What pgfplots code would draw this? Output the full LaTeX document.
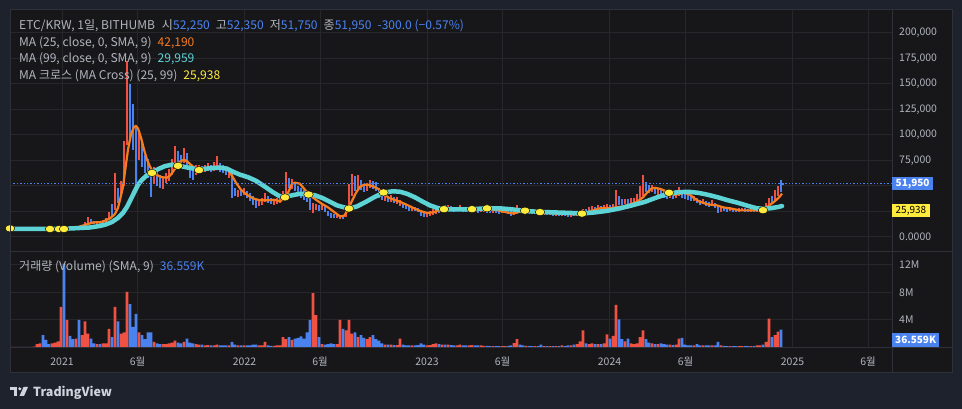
\documentclass[border=0pt]{standalone}
\usepackage{fontspec}
\setmainfont{Noto Sans CJK KR}
\usepackage{pgfplots}
\pgfplotsset{compat=1.18}
\usepackage{pgfplotstable}
\definecolor{outerbg}{HTML}{1E222D}
\definecolor{chartbg}{HTML}{17171A}
\definecolor{gridc}{HTML}{26262B}
\definecolor{framec}{HTML}{303138}
\definecolor{txt}{HTML}{B2B5BE}
\definecolor{cblue}{HTML}{4A82F0}
\definecolor{cred}{HTML}{EF5143}
\definecolor{corange}{HTML}{F57C1F}
\definecolor{ccyan}{HTML}{5DD3D6}
\definecolor{cyellow}{HTML}{FFEB3B}
\definecolor{tvtext}{HTML}{D1D4DC}
\newcommand{\lf}{\fontsize{12.1}{14}\selectfont}
\newcommand{\tf}{\fontsize{10.5}{12}\selectfont}

% candles (up = red), columns: day since 2021-01-01, low, high (thousand KRW), volume (M)
\pgfplotstableread{
d l h v
-98 6.8 7.8 0.1
-86 7.1 8.3 0.1
-68 6.7 7.8 0.1
-56 6.7 8.0 0.12
-50 7.0 8.5 0.5
-44 7.2 8.8 0.6
-20 6.4 7.5 0.6
-14 6.6 7.8 0.7
-8 6.8 8.0 0.9
-2 7.0 8.8 5.9
10 7.8 9.5 4.0
28 7.5 9.2 1.3
40 8.5 11.0 1.8
46 10.5 14.5 3.8
52 13.0 19.5 2.0
70 12.5 15.5 0.5
82 13.0 15.8 0.6
88 14.5 18.5 0.6
94 16.5 24.0 2.7
106 26.0 62.0 5.9
118 40.0 55.0 2.0
124 50.0 94.0 2.2
130 90.0 172.0 8.1
154 75.0 102.0 2.2
184 52.0 68.0 0.8
202 47.0 58.0 0.5
208 53.0 62.0 0.5
214 55.0 66.0 0.6
220 60.0 76.0 0.7
226 65.0 89.0 1.0
244 72.0 87.0 0.8
268 60.0 70.0 0.5
274 63.0 70.0 0.4
286 63.0 70.0 0.3
292 64.0 72.0 0.35
304 64.0 73.0 0.3
310 65.0 79.0 0.4
334 58.0 67.0 0.3
352 39.0 46.0 0.3
364 41.0 48.0 0.3
394 30.0 37.0 0.3
400 31.0 38.0 0.3
406 34.0 43.0 0.8
424 31.0 37.0 0.25
430 32.0 38.0 0.3
436 33.0 39.0 0.3
442 35.0 45.0 1.5
448 42.0 63.0 1.2
460 47.0 57.0 1.1
502 23.0 33.0 7.9
508 26.0 32.0 4.7
520 26.0 30.5 0.5
550 18.0 21.5 0.5
556 17.5 20.5 4.0
568 19.0 30.0 2.5
574 25.0 52.0 4.0
580 40.0 61.0 2.0
592 47.0 60.0 1.5
610 45.0 53.0 1.2
616 48.0 56.0 1.5
646 35.0 41.0 0.4
658 34.0 41.0 0.4
670 32.0 38.5 0.35
676 30.0 36.0 1.3
700 25.0 29.0 0.3
730 19.0 23.5 0.3
736 20.0 25.0 0.35
742 21.0 27.0 0.5
748 22.5 28.0 0.6
760 24.0 30.0 0.4
772 25.0 31.0 0.4
790 25.0 29.5 0.3
796 25.5 30.5 0.4
814 24.5 29.5 0.3
820 25.0 30.0 0.35
838 24.0 28.5 0.3
844 24.5 29.0 0.25
862 23.5 27.5 0.2
880 23.0 27.0 0.2
886 23.5 27.5 0.2
904 21.0 26.0 0.65
910 22.5 31.0 1.2
928 23.0 27.0 0.25
946 22.0 25.5 0.2
964 21.5 25.0 0.2
976 21.0 24.5 0.2
988 20.5 24.0 0.2
1000 20.5 24.0 0.3
1018 19.5 23.0 0.3
1030 20.0 23.5 0.5
1036 20.5 24.5 0.9
1042 21.5 27.0 2.5
1054 24.0 29.0 0.5
1060 24.5 30.0 0.6
1072 25.0 30.5 0.5
1084 25.5 31.0 0.6
1090 26.0 31.5 1.9
1102 26.5 31.5 1.7
1108 28.0 46.0 6.2
1126 31.5 36.5 0.9
1138 32.0 37.5 0.6
1144 32.5 38.0 0.5
1150 34.0 42.0 0.6
1156 37.0 50.0 1.5
1162 40.0 60.0 2.5
1180 44.0 51.0 0.6
1192 41.0 48.0 0.5
1216 38.0 45.0 0.4
1228 38.0 46.0 0.4
1234 40.0 49.0 1.3
1264 34.5 40.0 0.3
1282 31.5 36.5 0.3
1300 30.0 36.0 0.3
1318 24.5 29.0 0.3
1336 25.0 29.0 0.2
1354 24.5 28.0 0.2
1360 25.0 28.5 0.2
1378 24.5 28.0 0.2
1390 24.5 28.0 0.3
1396 24.5 28.5 0.3
1408 26.0 33.0 0.8
1414 29.0 38.0 4.2
1426 35.0 46.0 1.8
1432 40.0 50.0 2.3
}\tred

% candles (down = blue)
\pgfplotstableread{
d l h v
-104 7.0 8.2 0.1
-92 6.9 8.0 0.1
-80 6.8 7.9 0.1
-74 6.5 7.6 0.1
-62 6.6 7.5 0.1
-38 6.8 8.2 1.8
-32 6.5 7.6 1.1
-26 6.2 7.4 0.5
4 7.2 9.8 12.2
16 7.6 9.0 1.7
22 7.3 8.8 1.2
34 8.0 10.0 4.0
58 12.5 17.0 1.3
64 12.0 15.0 0.6
76 12.8 15.0 0.5
100 20.0 32.0 1.5
112 33.0 48.0 3.8
136 95.0 150.0 6.3
142 85.0 130.0 3.0
148 50.0 110.0 4.9
160 68.0 95.0 1.8
166 62.0 80.0 1.2
172 58.0 76.0 2.2
178 39.0 66.0 2.2
190 50.0 64.0 0.6
196 48.0 60.0 0.5
232 70.0 84.0 0.7
238 68.0 80.0 0.6
250 66.0 82.0 1.3
256 58.0 72.0 0.7
262 56.0 68.0 0.6
280 62.0 69.0 0.4
298 63.0 70.0 0.3
316 63.0 72.0 0.3
322 62.0 70.0 0.3
328 60.0 68.0 0.3
340 38.0 62.0 0.8
346 40.0 48.0 0.4
358 40.0 47.0 0.3
370 38.0 45.0 0.3
376 35.0 43.0 0.3
382 31.0 40.0 0.4
388 28.0 36.0 0.4
412 33.0 40.0 0.3
418 32.0 38.0 0.25
454 48.0 58.0 1.5
466 45.0 53.0 1.3
472 42.0 50.0 1.4
478 38.0 48.0 1.6
484 36.0 46.0 1.3
490 34.0 43.0 2.2
496 26.0 38.0 4.0
514 25.0 31.0 1.5
526 24.0 30.0 0.4
532 20.0 25.0 0.5
538 18.5 23.5 0.6
544 18.0 22.0 0.5
562 17.5 20.0 2.7
586 45.0 59.0 2.2
598 46.0 56.0 1.8
604 44.0 52.0 1.4
622 47.0 55.0 1.8
628 45.0 54.0 1.2
634 38.0 48.0 1.0
640 36.0 43.0 0.6
652 34.0 40.0 0.4
664 33.0 39.0 0.35
682 28.0 33.0 0.4
688 27.0 31.0 0.3
694 25.5 30.0 0.3
706 25.5 29.5 0.3
712 24.0 28.0 0.35
718 20.0 26.0 0.6
724 19.5 24.0 0.4
754 23.0 29.0 0.5
766 24.5 30.5 0.4
778 25.0 30.0 0.35
784 24.5 29.0 0.3
802 24.5 29.0 0.3
808 24.0 28.5 0.3
826 24.5 29.0 0.3
832 23.5 28.0 0.3
850 23.5 28.0 0.25
856 23.0 27.0 0.2
868 23.0 27.0 0.2
874 22.5 26.5 0.2
892 22.0 26.5 0.25
898 20.5 25.0 0.3
916 23.0 27.5 0.4
922 22.5 27.0 0.3
934 22.5 26.5 0.2
940 22.0 26.0 0.2
952 21.5 25.0 0.2
958 21.0 25.0 0.4
970 21.0 24.5 0.2
982 20.5 24.0 0.2
994 20.0 23.5 0.2
1006 20.0 23.5 0.2
1012 19.5 23.0 0.3
1024 19.8 23.2 0.4
1048 23.0 27.5 0.6
1066 24.0 29.5 0.5
1078 25.0 30.0 0.5
1096 25.5 30.5 1.3
1114 31.0 40.0 4.1
1120 31.0 37.0 1.2
1132 31.0 37.0 1.3
1168 44.0 54.0 1.2
1174 43.0 51.0 0.7
1186 42.0 49.0 0.5
1198 39.0 47.0 0.6
1204 38.0 45.0 0.5
1210 37.0 44.0 0.4
1222 37.0 44.0 0.35
1240 38.0 45.0 1.4
1246 37.0 43.0 0.4
1252 36.0 42.0 0.3
1258 35.0 41.0 0.3
1270 33.0 38.0 0.5
1276 31.0 36.0 0.3
1288 30.0 35.0 0.3
1294 29.0 34.0 0.3
1306 28.0 33.0 0.3
1312 23.5 31.0 0.8
1324 25.0 29.0 0.25
1330 24.5 28.5 0.2
1342 24.5 28.0 0.2
1348 24.0 27.5 0.2
1366 24.5 28.0 0.2
1372 24.0 27.5 0.2
1384 24.0 27.5 0.2
1402 25.0 29.0 0.4
1420 32.0 40.0 1.5
1438 44.0 56.0 2.6
1442 51.75 52.35 0.037
}\tblue

\pgfplotstableread{
d v
-104 7.9
-44 7.4
-4 7.4
26 8.4
46 11.4
62 13.8
80 14.3
96 17.8
106 22.2
112 28.2
116 36.1
122 48.9
126 63.7
132 85.5
138 100.3
144 107.7
148 108.7
152 106.2
158 97.3
164 85.5
170 75.6
176 68.7
182 63.7
190 60.3
200 58.3
210 57.8
216 59.8
222 63.7
230 69.7
236 73.6
244 75.6
252 73.1
262 68.7
274 65.2
286 67.2
300 68.2
312 68.7
322 68.2
332 65.7
340 59.8
348 52.9
358 45.9
370 41.0
382 37.5
396 35.6
410 35.6
424 36.1
436 34.6
444 37.0
452 43.0
460 51.9
466 52.9
476 51.9
486 45.9
496 40.5
508 36.1
520 32.1
532 28.7
544 24.2
556 19.8
564 20.3
572 26.2
580 35.1
588 43.0
596 48.9
604 50.9
612 50.9
622 49.4
632 46.9
642 43.0
652 38.5
664 36.1
676 34.1
690 31.1
702 28.2
716 25.2
730 23.2
742 23.7
756 26.2
770 27.7
786 27.7
810 27.2
830 27.2
846 27.7
862 26.7
876 25.2
890 23.7
902 22.7
914 24.2
928 25.7
942 25.2
966 23.7
986 22.7
1010 22.2
1032 21.7
1046 23.2
1062 25.7
1076 27.7
1096 27.7
1108 28.7
1122 29.6
1136 31.6
1150 34.1
1162 38.5
1170 43.0
1178 46.9
1186 47.9
1196 46.9
1206 45.0
1216 43.0
1226 41.0
1236 42.0
1244 43.0
1256 41.0
1266 37.0
1276 34.1
1292 31.6
1310 30.6
1322 28.7
1336 27.7
1356 25.7
1376 25.7
1390 25.7
1400 26.2
1408 28.2
1416 31.1
1424 34.1
1430 36.6
1436 39.5
1440 42.19
}\tmaA

\pgfplotstableread{
d v
-104 7.4
-44 7.4
16 7.9
56 8.9
76 10.4
88 11.9
100 14.3
112 18.3
122 23.2
130 29.1
138 37.0
146 45.0
152 50.9
160 55.8
170 60.3
180 63.2
192 66.2
206 69.2
220 70.6
232 69.7
252 67.7
274 65.7
296 67.2
316 67.7
330 66.7
342 63.7
356 60.8
372 58.3
388 54.8
406 48.9
422 43.5
434 40.0
446 39.0
460 40.5
476 42.0
492 41.5
506 40.5
520 38.0
536 34.1
550 30.6
564 28.7
576 27.7
590 29.6
606 33.6
622 38.0
636 41.5
648 43.5
662 44.5
676 44.0
690 42.0
706 38.5
722 34.1
736 30.6
750 28.2
766 26.7
786 26.7
816 26.7
846 27.7
876 27.7
900 26.7
926 25.2
956 24.2
986 23.7
1016 23.2
1042 22.7
1066 23.7
1090 25.2
1116 27.7
1140 30.6
1166 34.1
1190 38.5
1212 42.0
1232 43.5
1252 44.0
1272 43.0
1292 41.0
1312 38.5
1332 35.6
1352 33.1
1372 30.1
1390 27.7
1406 27.2
1420 28.0
1432 29.0
1440 29.96
}\tmaB

\begin{document}
\begin{tikzpicture}
\path[fill=outerbg] (0,0) rectangle (962bp,409bp);
\path[fill=chartbg] (10bp,36bp) rectangle (952bp,399bp);

% ---------- price pane ----------
\begin{axis}[
  at={(10bp,157bp)}, anchor=south west,
  width=882bp, height=242bp, scale only axis,
  xmin=-104, xmax=1660, ymin=-15.2, ymax=222.6,
  axis line style={draw=none},
  major tick length=0pt,
  xtick={0,151,365,516,730,881,1095,1247,1461,1612},
  xticklabels={},
  ytick={0,25,50,75,100,125,150,175,200},
  yticklabels={{0.0000},{},{},{75,000},{100,000},{125,000},{150,000},{175,000},{200,000}},
  yticklabel pos=right,
  yticklabel style={anchor=west, inner sep=0pt, xshift=7bp, font=\tf, text=txt},
  grid=major, grid style={gridc, line width=1bp},
  clip mode=individual,
]
\addplot[draw=none, forget plot, error bars/.cd, y dir=both, y explicit, error mark=none,
  error bar style={draw=cred, line width=2bp}]
  table[x=d, y expr={0.5*(\thisrow{l}+\thisrow{h})}, y error expr={0.5*(\thisrow{h}-\thisrow{l})}] {\tred};
\addplot[draw=none, forget plot, error bars/.cd, y dir=both, y explicit, error mark=none,
  error bar style={draw=cblue, line width=2bp}]
  table[x=d, y expr={0.5*(\thisrow{l}+\thisrow{h})}, y error expr={0.5*(\thisrow{h}-\thisrow{l})}] {\tblue};
\addplot[corange, line width=2.2bp, line join=round] table[x=d, y=v] {\tmaA};
\addplot[ccyan, line width=4.5bp, line join=round, line cap=round] table[x=d, y=v] {\tmaB};
\addplot[only marks, mark=*, mark size=4bp, mark options={fill=cyellow, draw=none, xscale=1.2, yscale=0.9}]
  coordinates {(-104,8.0) (-24,7.4) (-6,7.4) (4,7.4) (180,62.5) (232,69.5) (274,65.3)
  (446,38.5) (493,41.3) (574,27.5) (643,43.3) (764,26.9) (820,26.9) (850,27.7)
  (926,25.4) (956,24.0) (1040,22.5) (1214,43.0) (1402,25.9)};
\addplot[cblue, line width=1.4bp, dash pattern=on 1.4bp off 2bp] coordinates {(-104,51.95) (1660,51.95)};
\end{axis}

% ---------- volume pane ----------
\begin{axis}[
  at={(10bp,61bp)}, anchor=south west,
  width=882bp, height=96bp, scale only axis,
  xmin=-104, xmax=1660, ymin=-0.073, ymax=13.89,
  axis line style={draw=none},
  major tick length=0pt,
  xtick={0,151,365,516,730,881,1095,1247,1461,1612},
  xticklabels={2021,6월,2022,6월,2023,6월,2024,6월,2025,6월},
  xticklabel style={anchor=base, inner sep=0pt, yshift=-17bp, font=\tf, text=txt},
  ytick={0,4,8,12},
  yticklabels={{},4M,8M,12M},
  yticklabel pos=right,
  yticklabel style={anchor=west, inner sep=0pt, xshift=7bp, font=\tf, text=txt},
  grid=major, grid style={gridc, line width=1bp},
  clip mode=individual,
]
\addplot[ybar, bar width=2.8bp, bar shift=0pt, fill=cred, draw=none] table[x=d, y=v] {\tred};
\addplot[ybar, bar width=2.8bp, bar shift=0pt, fill=cblue, draw=none] table[x=d, y=v] {\tblue};
\end{axis}

% ---------- frame ----------
\draw[framec, line width=1bp] (10bp,36bp) rectangle (952bp,399bp);
\draw[framec, line width=1bp] (892bp,36bp) -- (892bp,399bp);
\draw[framec, line width=1bp] (10bp,157bp) -- (952bp,157bp);
\draw[framec, line width=1bp] (10bp,61bp) -- (952bp,61bp);

% ---------- price labels ----------
\node[anchor=west, fill=cblue, text=white, minimum height=13bp, inner xsep=3.5bp, inner ysep=0pt,
  font=\bfseries\fontsize{10}{12}\selectfont] at (892bp,225bp) {51,950};
\node[anchor=west, fill=cyellow, text=black, minimum height=13bp, inner xsep=3.5bp, inner ysep=0pt,
  font=\fontsize{10}{12}\selectfont] at (892bp,198.5bp) {25,938};
\node[anchor=south west, fill=cblue, text=white, minimum height=14bp, inner xsep=3bp, inner ysep=0pt,
  font=\bfseries\fontsize{10}{12}\selectfont] at (892bp,61.5bp) {36.559K};

% ---------- legends ----------
\begin{scope}[every node/.style={anchor=base west, inner sep=0pt, font=\lf, text=txt}]
\node at (19bp,379.7bp) {ETC/KRW, 1일, BITHUMB\hspace{7bp}시\textcolor{cblue}{52,250}\hspace{6bp}고\textcolor{cblue}{52,350}\hspace{6bp}저\textcolor{cblue}{51,750}\hspace{6bp}종\textcolor{cblue}{51,950}\hspace{6bp}\textcolor{cblue}{-300.0 (−0.57\%)}};
\node at (19bp,362.7bp) {MA (25, close, 0, SMA, 9)\hspace{6bp}\textcolor{corange}{42,190}};
\node at (19bp,346.7bp) {MA (99, close, 0, SMA, 9)\hspace{6bp}\textcolor{ccyan}{29,959}};
\node at (19bp,329.7bp) {MA 크로스 (MA Cross) (25, 99)\hspace{6bp}\textcolor{cyellow}{25,938}};
\node at (19bp,138.7bp) {거래량 (Volume) (SMA, 9)\hspace{6bp}\textcolor{cblue}{36.559K}};
\end{scope}

% ---------- TradingView logo ----------
\fill[tvtext] (10bp,22bp) rectangle (17bp,18.5bp);
\fill[tvtext] (13.5bp,22bp) rectangle (17bp,13bp);
\fill[tvtext] (19.8bp,20.2bp) circle (1.7bp);
\fill[tvtext] (23.5bp,22bp) -- (28bp,22bp) -- (24bp,13bp) -- (19.5bp,13bp) -- cycle;
\node[anchor=base west, inner sep=0pt, text=tvtext, font=\bfseries\fontsize{12.5}{14}\selectfont] at (33bp,13bp) {TradingView};
\end{tikzpicture}
\end{document}
